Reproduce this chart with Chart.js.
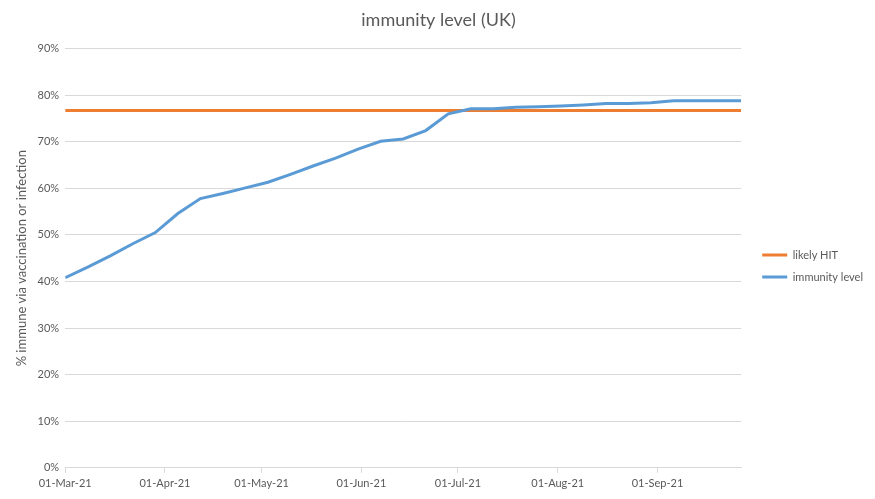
<!DOCTYPE html>
<html>
<head>
<meta charset="utf-8">
<script src="https://cdn.jsdelivr.net/npm/chart.js@4/dist/chart.umd.min.js"></script>
<style>
  html, body { margin: 0; padding: 0; background: #fff; }
  #wrap { width: 875px; height: 499px; }
</style>
</head>
<body>
<div id="wrap"><canvas id="myChart" width="875" height="499"></canvas></div>
<script>
// weekly dates of the series
var dates = [
    "2021-03-01", "2021-03-08", "2021-03-15", "2021-03-22", "2021-03-29",
    "2021-04-05", "2021-04-12", "2021-04-19", "2021-04-26", "2021-05-03",
    "2021-05-10", "2021-05-17", "2021-05-24", "2021-05-31", "2021-06-07",
    "2021-06-14", "2021-06-21", "2021-06-28", "2021-07-05", "2021-07-12",
    "2021-07-19", "2021-07-26", "2021-08-02", "2021-08-09", "2021-08-16",
    "2021-08-23", "2021-08-30", "2021-09-06", "2021-09-13", "2021-09-20",
    "2021-09-27"
];
// % immune via vaccination or infection
var immunity = [
    40.8, 43.1, 45.5, 48.1, 50.5, 54.6, 57.8, 58.9, 60.1, 61.3,
    63.0, 64.8, 66.5, 68.4, 70.1, 70.6, 72.4, 76.0, 77.1, 77.1,
    77.4, 77.5, 77.7, 77.9, 78.2, 78.2, 78.4, 78.8, 78.8, 78.8,
    78.8
];
var likelyHIT = [
    76.7, 76.7, 76.7, 76.7, 76.7, 76.7, 76.7, 76.7, 76.7, 76.7,
    76.7, 76.7, 76.7, 76.7, 76.7, 76.7, 76.7, 76.7, 76.7, 76.7,
    76.7, 76.7, 76.7, 76.7, 76.7, 76.7, 76.7, 76.7, 76.7, 76.7,
    76.7
];
var tickDates = ["2021-03-01", "2021-04-01", "2021-05-01", "2021-06-01", "2021-07-01", "2021-08-01", "2021-09-01"];
var tickLabels = ["01-Mar-21", "01-Apr-21", "01-May-21", "01-Jun-21", "01-Jul-21", "01-Aug-21", "01-Sep-21"];

var DAY = 86400000;
var t0 = Date.parse(dates[0]);
function dayOf(s) { return Math.round((Date.parse(s) - t0) / DAY); }
var xDays = dates.map(dayOf);
var tickDays = tickDates.map(dayOf);

var grey = "#595959";
var font = "Lato, 'Liberation Sans', sans-serif";

// nudge the legend a bit right and down, like the original
var legendShift = {
    id: "legendShift",
    afterInit: function (chart) {
        var lg = chart.legend;
        if (!lg) return;
        var orig = lg.draw;
        lg.draw = function () {
            var c = chart.ctx;
            c.save();
            c.translate(10, 19);
            orig.apply(this, arguments);
            c.restore();
        };
    },
};

var ctx = document.getElementById("myChart").getContext("2d");
var myChart = new Chart(ctx, {
    type: "line",
    data: {
        datasets: [
            {
                label: "immunity level",
                data: xDays.map(function (d, i) { return { x: d, y: immunity[i] }; }),
                borderColor: "#5B9BD5",
                backgroundColor: "#5B9BD5",
                borderWidth: 3,
                pointRadius: 0,
                tension: 0,
            },
            {
                label: "likely HIT",
                data: xDays.map(function (d, i) { return { x: d, y: likelyHIT[i] }; }),
                borderColor: "#ED7D31",
                backgroundColor: "#ED7D31",
                borderWidth: 3,
                pointRadius: 0,
                tension: 0,
            },
        ],
    },
    plugins: [legendShift],
    options: {
        responsive: false,
        animation: false,
        layout: { padding: { left: 14, right: 12, top: 0, bottom: 5 } },
        plugins: {
            title: {
                display: true,
                text: "immunity level (UK)",
                color: grey,
                font: { family: font, size: 18, weight: "normal" },
                padding: { top: 9, bottom: 18 },
            },
            legend: {
                position: "right",
                labels: {
                    color: grey,
                    font: { family: font, size: 11 },
                    usePointStyle: true,
                    pointStyle: "line",
                    pointStyleWidth: 25,
                    padding: 11,
                    sort: function (a, b) { return b.datasetIndex - a.datasetIndex; },
                },
            },
            tooltip: { enabled: false },
        },
        scales: {
            x: {
                type: "linear",
                min: 0,
                max: xDays[xDays.length - 1],
                afterBuildTicks: function (scale) {
                    scale.ticks = tickDays.map(function (d) { return { value: d }; });
                },
                ticks: {
                    color: grey,
                    font: { family: font, size: 11 },
                    maxRotation: 0,
                    autoSkip: false,
                    padding: 4,
                    callback: function (v) {
                        var i = tickDays.indexOf(v);
                        return i >= 0 ? tickLabels[i] : "";
                    },
                },
                grid: {
                    display: true,
                    drawOnChartArea: false,
                    drawTicks: true,
                    tickLength: 5,
                    color: "#d9d9d9",
                },
                border: { color: "#d9d9d9" },
            },
            y: {
                min: 0,
                max: 90,
                ticks: {
                    stepSize: 10,
                    color: grey,
                    font: { family: font, size: 11 },
                    padding: 6,
                    callback: function (v) { return v + "%"; },
                },
                grid: { color: "#d9d9d9", drawTicks: false },
                border: { display: false },
                title: {
                    display: true,
                    text: "% immune via vaccination or infection",
                    color: grey,
                    font: { family: font, size: 13 },
                    padding: { top: 0, bottom: 2 },
                },
            },
        },
    },
});
</script>
</body>
</html>
